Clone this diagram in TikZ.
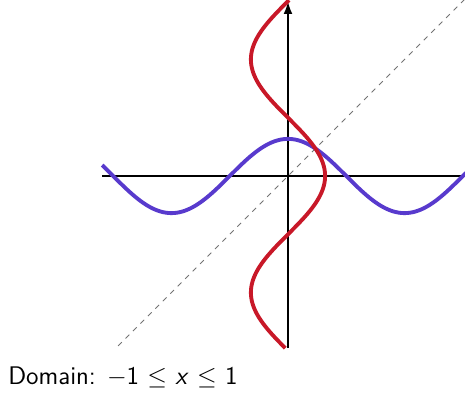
\documentclass[tikz,border=0pt]{standalone}
\usepackage{amsmath,amssymb}
\usetikzlibrary{arrows.meta}

\definecolor{curveblue}{RGB}{88,58,205}
\definecolor{curvered}{RGB}{200,24,40}

\begin{document}
\begin{tikzpicture}[
    x=0.742cm, y=0.742cm,
    axis/.style={line width=0.9pt, draw=black},
    diag/.style={dashed, line width=0.5pt, draw=black!55},
    func/.style={line width=2.2pt, draw=curveblue, samples=200, smooth},
    inv/.style={line width=2.2pt, draw=curvered, samples=200, smooth},
    caption/.style={font=\sffamily\fontsize{14.5}{17}\selectfont, anchor=base west, inner sep=0pt}
]
    \useasboundingbox (-7.763,-5.930) rectangle (4.771,4.744);

    % Mirror line y = x
    \draw[diag] (-4.58,-4.58) -- (4.80,4.80);

    % Axes
    \draw[axis] (-5.01,0) -- (4.80,0);
    \draw[axis, -{Latex[length=7pt,width=5pt]}] (0,-4.64) -- (0,4.70);

    % Function and its inverse
    \draw[func] plot[domain=-5.01:4.80] (\x, {cos(\x r)});
    \draw[inv] plot[domain=-4.64:4.74] ({cos(\x r)}, \x);

    % Caption
    \node[caption] (domain) at (-7.55,-5.62) {Domain: $-$1 $\leq$ \textit{x} $\leq$ 1};

\end{tikzpicture}
\end{document}
